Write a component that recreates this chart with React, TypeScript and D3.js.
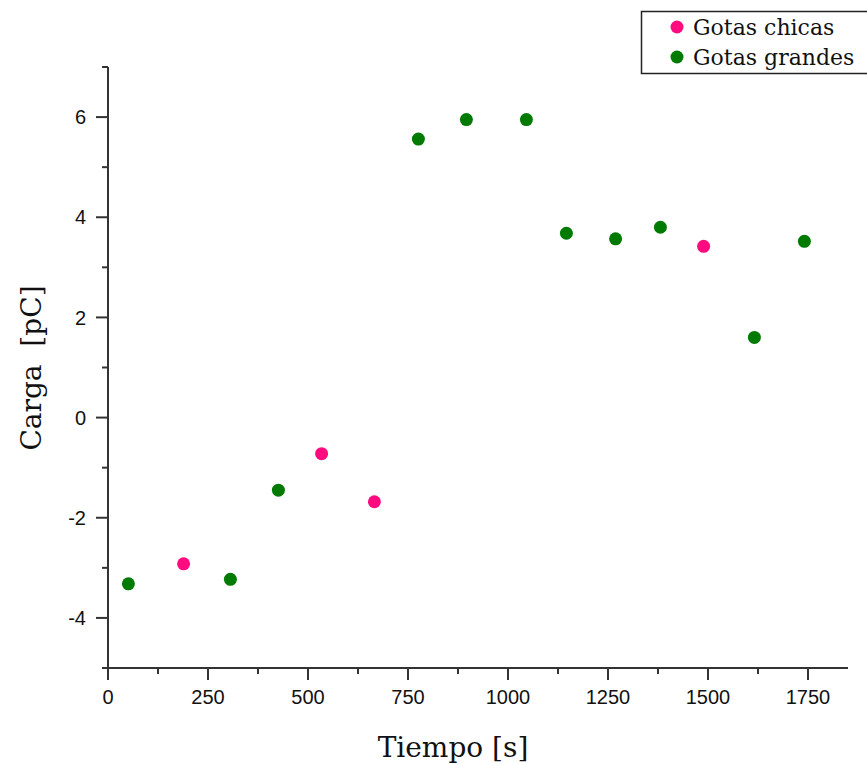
import React from "react";
import { scaleLinear, range } from "d3";

const width = 867;
const height = 764;

// plot area
const margin = { top: 67, right: 19, bottom: 96, left: 108 };
const innerWidth = width - margin.left - margin.right;
const innerHeight = height - margin.top - margin.bottom;

// Gotas chicas (pink)
const chicasTiempo = [189, 534, 666, 1489];
const chicasCarga = [-2.92, -0.72, -1.68, 3.42];

// Gotas grandes (green)
const grandesTiempo = [51, 306, 426, 776, 896, 1046, 1146, 1269, 1381, 1616, 1741];
const grandesCarga = [-3.32, -3.23, -1.45, 5.56, 5.95, 5.95, 3.68, 3.57, 3.8, 1.6, 3.52];

const xTicks = [0, 250, 500, 750, 1000, 1250, 1500, 1750];
const yTicks = [-4, -2, 0, 2, 4, 6];

const pink = "#ff0a7f";
const green = "#017a01";
const axisColor = "#333";

export default function App() {
  const xScale = scaleLinear().domain([0, 1850]).range([0, innerWidth]);
  const yScale = scaleLinear().domain([-5, 7]).range([innerHeight, 0]);

  const xMinor = range(125, 1850, 250);
  const yMinor = range(-5, 8, 2);

  const chicas = chicasTiempo.map((t, i) => ({ t, c: chicasCarga[i] }));
  const grandes = grandesTiempo.map((t, i) => ({ t, c: grandesCarga[i] }));

  return (
    <svg width={width} height={height} style={{ position: "absolute", left: 0, top: 0, background: "#fff" }}>
      <g transform={`translate(${margin.left}, ${margin.top})`}>
        {/* x axis */}
        <line x1={-6} x2={innerWidth} y1={innerHeight} y2={innerHeight} stroke={axisColor} strokeWidth={2} />
        {xTicks.map((v) => (
          <g key={v} transform={`translate(${xScale(v)}, ${innerHeight})`}>
            <line y2={12} stroke={axisColor} strokeWidth={2} />
            <text y={36} textAnchor="middle" fontFamily="Liberation Sans, Arial, sans-serif" fontSize={20} fill="#111">
              {v}
            </text>
          </g>
        ))}
        {xMinor.map((v) => (
          <line key={v} x1={xScale(v)} x2={xScale(v)} y1={innerHeight} y2={innerHeight + 6} stroke={axisColor} strokeWidth={2} />
        ))}

        {/* y axis */}
        <line x1={0} x2={0} y1={0} y2={innerHeight} stroke={axisColor} strokeWidth={2} />
        {yTicks.map((v) => (
          <g key={v} transform={`translate(0, ${yScale(v)})`}>
            <line x2={-12} stroke={axisColor} strokeWidth={2} />
            <text x={-22} dy="0.36em" textAnchor="end" fontFamily="Liberation Sans, Arial, sans-serif" fontSize={20} fill="#111">
              {v}
            </text>
          </g>
        ))}
        {yMinor.map((v) => (
          <line key={v} x1={-6} x2={0} y1={yScale(v)} y2={yScale(v)} stroke={axisColor} strokeWidth={2} />
        ))}

        {/* marks */}
        {grandes.map((d, i) => (
          <circle key={"g" + i} cx={xScale(d.t)} cy={yScale(d.c)} r={6.5} fill={green} />
        ))}
        {chicas.map((d, i) => (
          <circle key={"c" + i} cx={xScale(d.t)} cy={yScale(d.c)} r={6.5} fill={pink} />
        ))}
      </g>

      {/* axis titles */}
      <text x={453} y={757} textAnchor="middle" fontFamily="DejaVu Serif, serif" fontSize={28} fill="#111">
        Tiempo [s]
      </text>
      <text
        transform="translate(41, 368) rotate(-90)"
        textAnchor="middle"
        fontFamily="DejaVu Serif, serif"
        fontSize={28}
        fill="#111"
        style={{ whiteSpace: "pre" }}
      >
        {"Carga  [pC]"}
      </text>

      {/* legend */}
      <g>
        <rect x={641.5} y={11.5} width={240} height={62} fill="#fff" stroke="#222" strokeWidth={1.5} />
        <circle cx={677} cy={27} r={6.5} fill={pink} />
        <text x={693} y={35} fontFamily="DejaVu Serif, serif" fontSize={22} fill="#111">Gotas chicas</text>
        <circle cx={677} cy={57} r={6.5} fill={green} />
        <text x={693} y={65} fontFamily="DejaVu Serif, serif" fontSize={22} fill="#111">Gotas grandes</text>
      </g>
    </svg>
  );
}
